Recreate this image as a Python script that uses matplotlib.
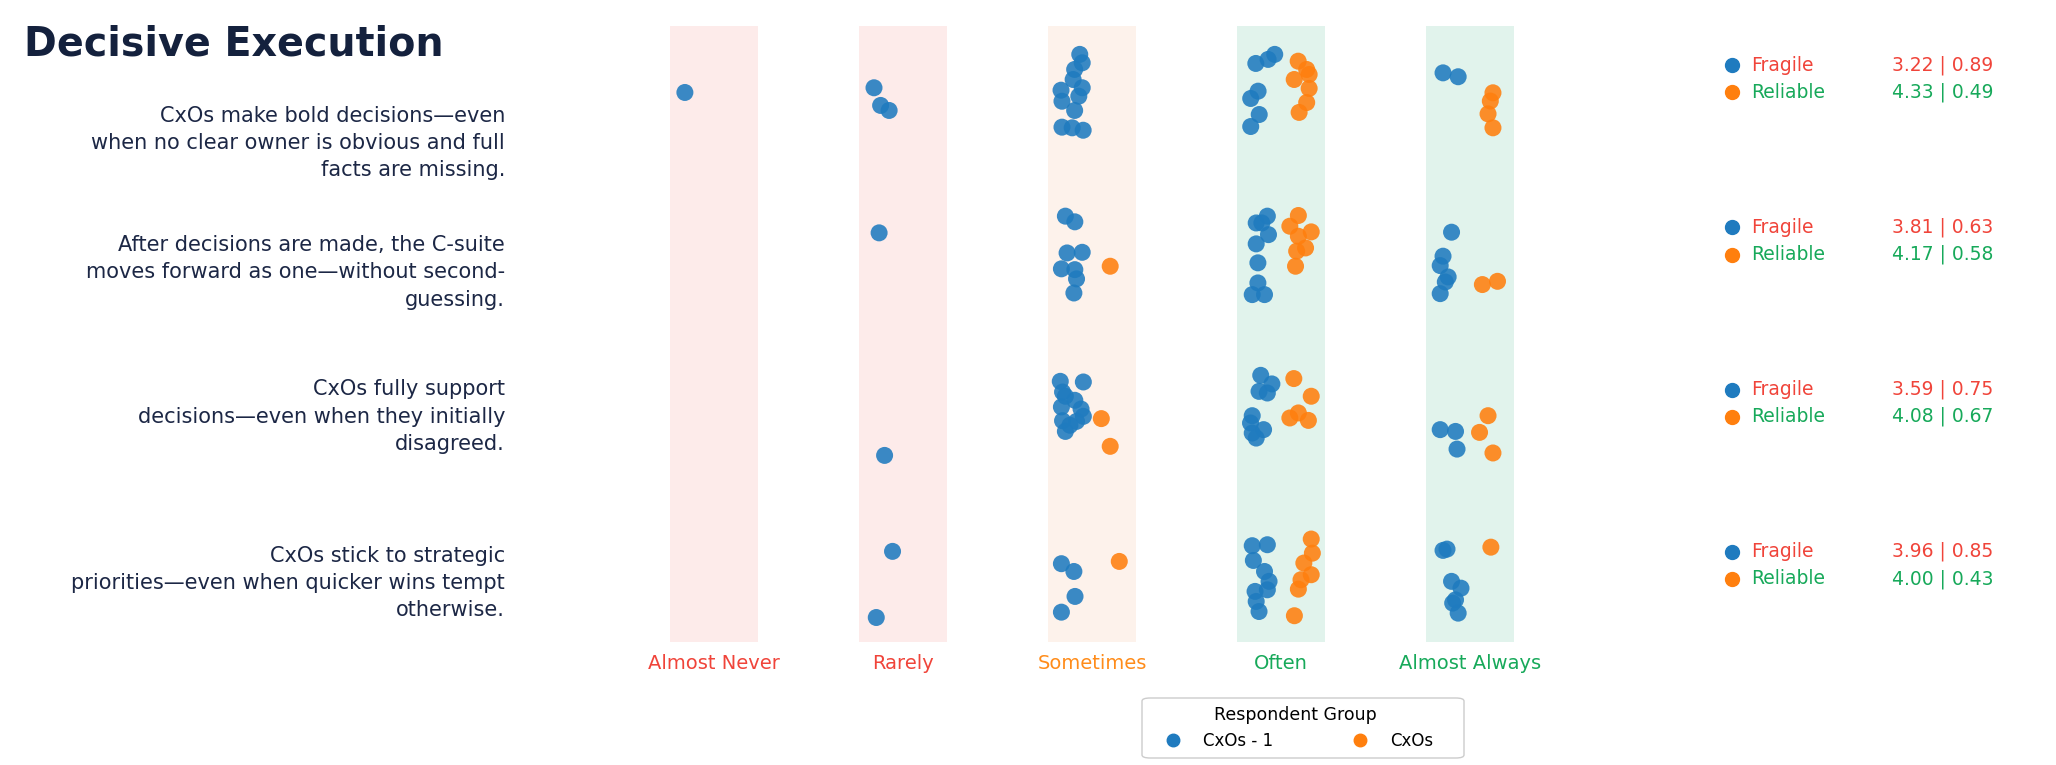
import numpy as np
import matplotlib
matplotlib.use("Agg")
import matplotlib.pyplot as plt
import matplotlib.transforms as mtransforms
from matplotlib.lines import Line2D
from matplotlib.patches import FancyBboxPatch

#=========
# 1. Data
#=========

title = "Decisive Execution"

answer_labels = ["Almost Never", "Rarely", "Sometimes", "Often", "Almost Always"]

questions = [
    "CxOs make bold decisions\u2014even\nwhen no clear owner is obvious and full\nfacts are missing.",
    "After decisions are made, the C-suite\nmoves forward as one\u2014without second-\nguessing.",
    "CxOs fully support\ndecisions\u2014even when they initially\ndisagreed.",
    "CxOs stick to strategic\npriorities\u2014even when quicker wins tempt\notherwise.",
]

group_names = ["CxOs - 1", "CxOs"]
stat_names = ["Fragile", "Reliable"]

fragile_mean = [3.22, 3.81, 3.59, 3.96]
fragile_sd = [0.89, 0.63, 0.75, 0.85]
reliable_mean = [4.33, 4.17, 4.08, 4.00]
reliable_sd = [0.49, 0.58, 0.67, 0.43]

# responses as (answer 1-5, jitter x, jitter y)
q1_blue = [(1, -0.153, 0.000),
           (2, -0.153, -0.029), (2, -0.118, 0.080), (2, -0.073, 0.111),
           (3, -0.065, -0.235), (3, -0.052, -0.183), (3, -0.092, -0.142), (3, -0.100, -0.080),
           (3, -0.052, -0.029), (3, -0.164, -0.014), (3, -0.070, 0.023), (3, -0.159, 0.054),
           (3, -0.092, 0.111), (3, -0.159, 0.214), (3, -0.105, 0.218), (3, -0.047, 0.233),
           (4, -0.134, -0.179), (4, -0.069, -0.204), (4, -0.034, -0.235), (4, -0.122, -0.008),
           (4, -0.161, 0.037), (4, -0.116, 0.136), (4, -0.161, 0.210),
           (5, -0.144, -0.121), (5, -0.064, -0.097)]
q1_orange = [(4, 0.090, -0.193), (4, 0.135, -0.142), (4, 0.148, -0.111), (4, 0.069, -0.080),
             (4, 0.148, -0.025), (4, 0.135, 0.062), (4, 0.095, 0.123),
             (5, 0.120, 0.002), (5, 0.106, 0.053), (5, 0.094, 0.132), (5, 0.120, 0.218)]

q2_blue = [(2, -0.126, -0.134),
           (3, -0.141, -0.237), (3, -0.091, -0.202), (3, -0.132, -0.010), (3, -0.052, -0.014),
           (3, -0.162, 0.088), (3, -0.091, 0.093), (3, -0.082, 0.150), (3, -0.096, 0.237),
           (4, -0.073, -0.237), (4, -0.132, -0.195), (4, -0.102, -0.195), (4, -0.067, -0.123),
           (4, -0.132, -0.066), (4, -0.123, 0.051), (4, -0.123, 0.175), (4, -0.153, 0.247),
           (4, -0.088, 0.247),
           (5, -0.099, -0.138), (5, -0.144, 0.010), (5, -0.159, 0.068), (5, -0.117, 0.138),
           (5, -0.132, 0.169), (5, -0.159, 0.241)]
q2_orange = [(3, 0.096, 0.072),
             (4, 0.091, -0.241), (4, 0.046, -0.175), (4, 0.159, -0.140), (4, 0.091, -0.113),
             (4, 0.129, -0.041), (4, 0.082, -0.021), (4, 0.076, 0.072),
             (5, 0.064, 0.185), (5, 0.144, 0.165)]

q3_blue = [(2, -0.097, 0.239),
           (3, -0.168, -0.218), (3, -0.046, -0.214), (3, -0.156, -0.152), (3, -0.141, -0.126),
           (3, -0.091, -0.101), (3, -0.162, -0.060), (3, -0.058, -0.047), (3, -0.046, -0.002),
           (3, -0.156, 0.025), (3, -0.082, 0.029), (3, -0.117, 0.053), (3, -0.141, 0.091),
           (4, -0.108, -0.255), (4, -0.049, -0.202), (4, -0.117, -0.156), (4, -0.073, -0.146),
           (4, -0.153, -0.006), (4, -0.162, 0.039), (4, -0.093, 0.080), (4, -0.153, 0.101),
           (4, -0.132, 0.132),
           (5, -0.159, 0.080), (5, -0.078, 0.091), (5, -0.070, 0.200)]
q3_orange = [(3, 0.049, 0.012), (3, 0.096, 0.183),
             (4, 0.067, -0.235), (4, 0.159, -0.126), (4, 0.046, 0.008), (4, 0.091, -0.023),
             (4, 0.144, 0.023),
             (5, 0.094, -0.006), (5, 0.049, 0.097), (5, 0.120, 0.224)]

q4_blue = [(2, -0.055, -0.169), (2, -0.141, 0.239),
           (3, -0.162, -0.093), (3, -0.096, -0.045), (3, -0.090, 0.109), (3, -0.162, 0.206),
           (4, -0.153, -0.204), (4, -0.073, -0.210), (4, -0.147, -0.113), (4, -0.088, -0.045),
           (4, -0.064, 0.016), (4, -0.138, 0.078), (4, -0.073, 0.068), (4, -0.132, 0.140),
           (4, -0.117, 0.202),
           (5, -0.144, -0.175), (5, -0.123, -0.183), (5, -0.099, 0.016), (5, -0.049, 0.058),
           (5, -0.093, 0.150), (5, -0.078, 0.130), (5, -0.064, 0.212)]
q4_orange = [(3, 0.144, -0.107),
             (4, 0.159, -0.245), (4, 0.165, -0.158), (4, 0.120, -0.097), (4, 0.159, -0.025),
             (4, 0.105, 0.006), (4, 0.091, 0.064), (4, 0.070, 0.228),
             (5, 0.109, -0.195)]

blue_points = [q1_blue, q2_blue, q3_blue, q4_blue]
orange_points = [q1_orange, q2_orange, q3_orange, q4_orange]

#==========
# 2. Styles
#==========

RED = "#F0443A"
ORANGE_TXT = "#FF8C1A"
GREEN = "#17A95A"
NAVY = "#14213D"
TEXT = "#1C2745"
BLUE_DOT = "#1F7BBF"
ORANGE_DOT = "#FF7F0E"

band_colors = ["#FDEBEA", "#FDEBEA", "#FDF2EB", "#E1F3EC", "#E1F3EC"]
label_colors = [RED, RED, ORANGE_TXT, GREEN, GREEN]

question_y = [0.31, 1.11, 2.0, 3.025]   # label centres, in row units

#============
# 3. Plotting
#============

fig = plt.figure(figsize=(20.56, 7.65), dpi=100)
ax = fig.add_axes([0.3012, 0.1608, 0.4599, 0.8052])
ax.set_xlim(-0.5, 4.5)
ax.set_ylim(3.39, -0.41)
ax.axis("off")

for i, c in enumerate(band_colors):
    ax.axvspan(i - 0.233, i + 0.233, color=c, zorder=0, lw=0)
    ax.text(i, 3.52, answer_labels[i], color=label_colors[i], fontsize=14,
            ha="center", va="center", clip_on=False)

for q in range(len(questions)):
    for pts, col in [(blue_points[q], BLUE_DOT), (orange_points[q], ORANGE_DOT)]:
        xs = [a - 1 + jx for a, jx, jy in pts]
        ys = [q + jy for a, jx, jy in pts]
        ax.scatter(xs, ys, s=150, color=col, alpha=0.88, edgecolor="none", zorder=3)

# question labels on the left
trans = mtransforms.blended_transform_factory(fig.transFigure, ax.transData)
for q, text in enumerate(questions):
    ax.text(505 / 2056, question_y[q], text, transform=trans, ha="right", va="center",
            multialignment="right", fontsize=15, linespacing=1.45, color=TEXT,
            clip_on=False)

# stats on the right
for q in range(len(questions)):
    rows = [(q - 0.167, BLUE_DOT, stat_names[0], RED, fragile_mean[q], fragile_sd[q]),
            (q, ORANGE_DOT, stat_names[1], GREEN, reliable_mean[q], reliable_sd[q])]
    for y, dot, name, tc, m, sd in rows:
        ax.plot([1732 / 2056], [y], "o", color=dot, markersize=10, transform=trans,
                clip_on=False)
        ax.text(1751 / 2056, y, name, transform=trans, color=tc, fontsize=13.5,
                ha="left", va="center", clip_on=False)
        ax.text(1993 / 2056, y, f"{m:.2f} | {sd:.2f}", transform=trans, color=tc,
                fontsize=13.5, ha="right", va="center", clip_on=False)

fig.text(24 / 2056, 1 - 56 / 765, title, fontsize=28.5, fontweight="bold", color=NAVY,
         ha="left", va="baseline")

handles = [Line2D([], [], marker="o", ls="", color=BLUE_DOT, markersize=9),
           Line2D([], [], marker="o", ls="", color=ORANGE_DOT, markersize=9)]
leg = fig.legend(handles, group_names, title="Respondent Group", ncol=2, loc="center",
                 bbox_to_anchor=(1295 / 2056, 1 - 728 / 765), fontsize=12,
                 title_fontsize=12.5, columnspacing=4.2, frameon=False)

# legend frame, a little wider than the entries
box = FancyBboxPatch((1142 / 2056, 1 - 758 / 765), 322 / 2056, 60 / 765,
                     boxstyle="round,pad=0,rounding_size=0.004",
                     transform=fig.transFigure, facecolor="white",
                     edgecolor="#cccccc", linewidth=1.0, zorder=-1)
fig.patches.append(box)

fig.savefig("out.png", dpi=100)
